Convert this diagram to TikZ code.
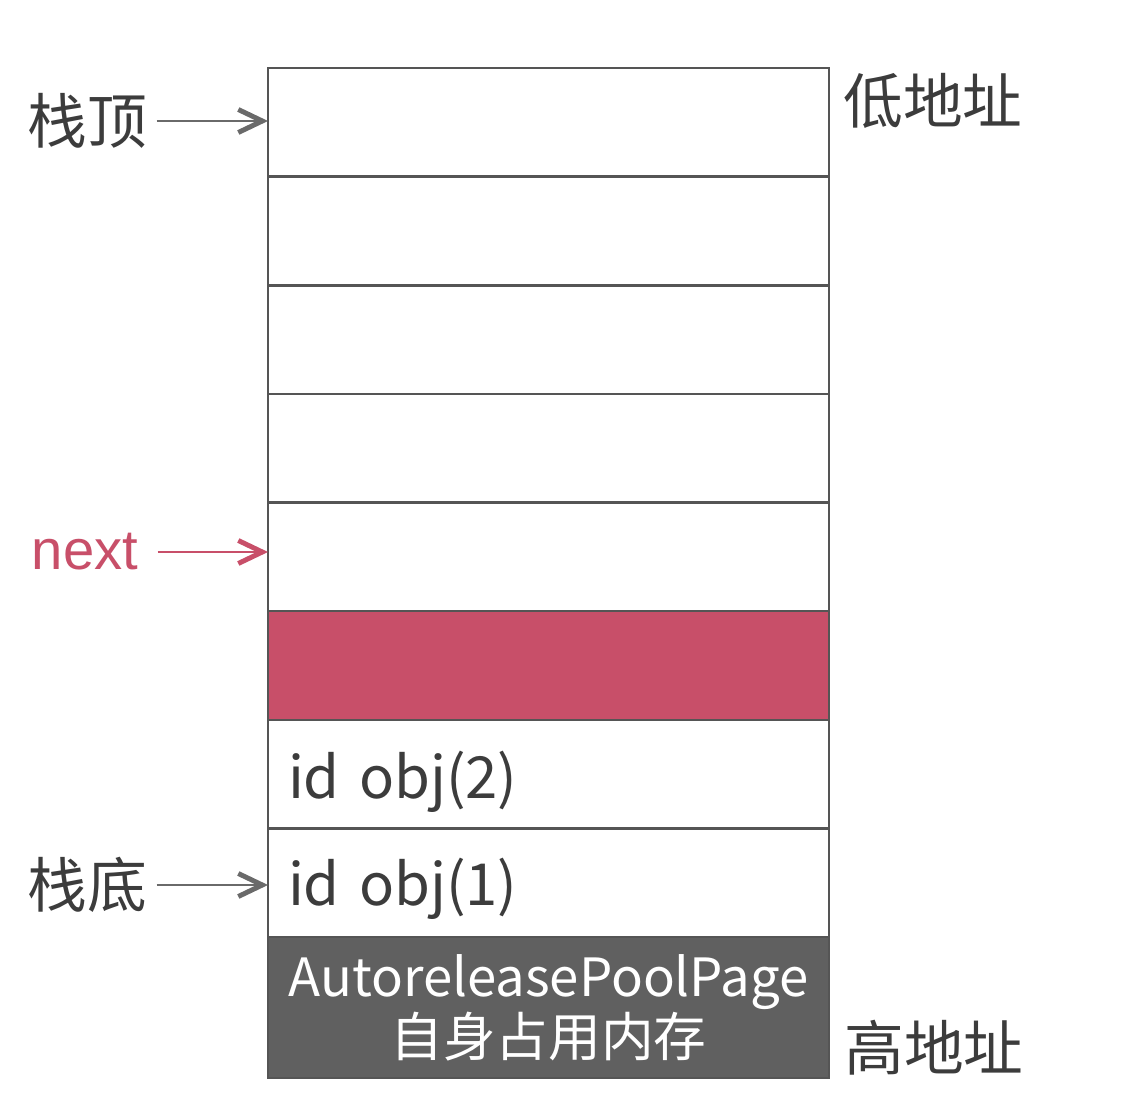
\documentclass[tikz,border=0pt]{standalone}
\usepackage{fontspec}
\setmainfont{Noto Sans CJK SC}
\newfontfamily\nextfont{Liberation Sans}
\usetikzlibrary{arrows.meta, positioning}
\definecolor{stkgray}{HTML}{555555}
\definecolor{stkarrow}{HTML}{6A6A6A}
\definecolor{stkred}{HTML}{C84F69}
\definecolor{stkdark}{HTML}{606060}
\definecolor{stktext}{HTML}{3C3C3C}

\begin{document}
\begin{tikzpicture}[
  every node/.style={font=\fontsize{17}{20}\selectfont},
  cell/.style={rectangle, draw=stkgray, line width=0.7pt, fill=#1, minimum width=5.61cm, minimum height=1.086cm, inner xsep=0.2cm, text width=5.21cm, align=left, outer sep=0pt, text=stktext, font=\fontsize{16.5}{20}\selectfont},
  cell/.default=white,
  ptr/.style={stkarrow, line width=0.8pt, -{Straight Barb[length=2.4mm, width=2.3mm, line width=1.4pt]}},
]
\useasboundingbox (0,0) rectangle (11.34,-11.06);

% Stack cells
\node[cell] (r1) at (5.485, -1.223) {};
\node[cell] (r2) at (5.485, -2.310) {};
\node[cell] (r3) at (5.485, -3.396) {};
\node[cell] (r4) at (5.485, -4.482) {};
\node[cell] (r5) at (5.485, -5.569) {};
\node[cell=stkred] (r6) at (5.485, -6.655) {};
\node[cell] (r7) at (5.485, -7.741) {\raisebox{-0.08cm}[\height][\depth]{id obj(2)}};
\node[cell] (r8) at (5.485, -8.827) {\raisebox{-0.06cm}[\height][\depth]{id obj(1)}};
\node[cell=stkdark, minimum height=1.41cm, align=center, text=white, font=\fontsize{15}{17}\selectfont] (page) at (5.485, -10.075) {AutoreleasePoolPage\\自身占用内存};

% Pointer labels
\node[text=stktext] (top) at (0.875, -1.21) {栈顶};
\node[text=stkred, font=\nextfont\fontsize{16}{20}\selectfont] (next) at (0.85, -5.52) {next};
\node[text=stktext] (bottom) at (0.875, -8.85) {栈底};

% Address labels
\node[text=stktext] (low) at (9.33, -1.01) {低地址};
\node[text=stktext] (high) at (9.34, -10.48) {高地址};

% Arrows
\draw[ptr, shorten <=-0.03cm] (top.east) -- (top.east -| r1.west);
\draw[ptr, stkred, shorten <=0.07cm] (next.east) -- (next.east -| r5.west);
\draw[ptr, shorten <=-0.03cm] (bottom.east) -- (bottom.east -| r8.west);

\end{tikzpicture}
\end{document}
